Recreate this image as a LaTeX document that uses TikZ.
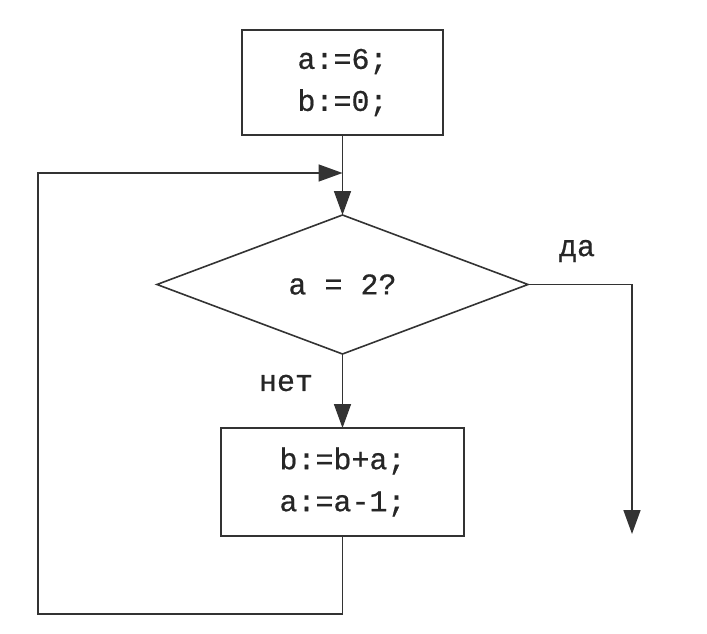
\documentclass[tikz,border=0pt]{standalone}
\usepackage{fontspec}
\newfontfamily\monof[FakeBold=0.6]{Liberation Mono}
\usetikzlibrary{shapes.geometric,arrows.meta}
\begin{document}
\begin{tikzpicture}[x=1pt,y=-1pt,
  line width=1.6pt, draw=black!80,
  txt/.style={font=\monof\fontsize{30}{42}\selectfont, text=black!85},
  box/.style={draw, rectangle, txt, align=center, inner sep=0pt, outer sep=0pt},
  dia/.style={draw, diamond, txt, inner sep=0pt, outer sep=0pt, minimum width=371pt, minimum height=139pt},
  arr/.style={-{Triangle[length=24pt,width=17pt]}},
  lbl/.style={txt}
]
\useasboundingbox (0,0) rectangle (707,634);
\node[box, minimum width=201pt, minimum height=105pt] (b1) at (342.5,82.5) {a:=6;\\b:=0;};
\node[dia] (d) at (342.5,284.5) {a = 2?};
\node[box, minimum width=243pt, minimum height=108pt] (b2) at (342.5,482) {b:=b+a;\\a:=a-1;};
\node[lbl] (yes) at (577,251) {да};
\node[lbl] (no) at (286,383) {нет};
\coordinate (c1) at (342.5,614);
\coordinate (c2) at (38,614);
\coordinate (c3) at (38,173);
\coordinate (join) at (342.5,173);
\coordinate (r1) at (632,284.5);
\coordinate (r2) at (632,534);
\draw[arr] (b1.south) -- (d.north);
\draw[arr] (d.south) -- (b2.north);
\draw[arr] (b2.south) -- (c1) -- (c2) -- (c3) -- (join);
\draw[arr] (d.east) -- (r1) -- (r2);
\end{tikzpicture}
\end{document}
